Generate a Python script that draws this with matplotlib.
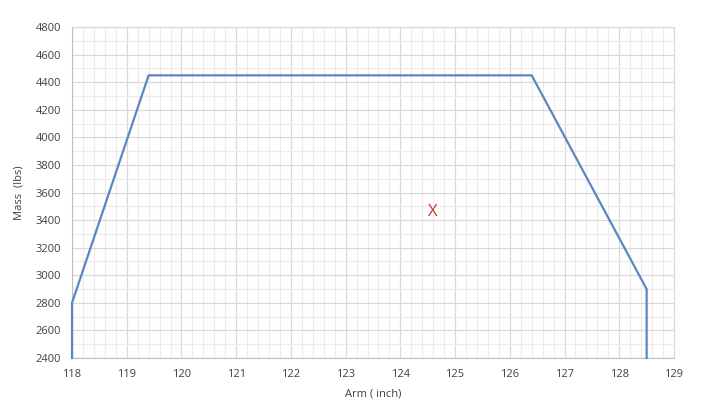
import matplotlib.pyplot as plt
from matplotlib.ticker import MultipleLocator

# envelope points (arm in inch, mass in lbs)
arm = [118.0, 118.0, 119.4, 126.4, 128.5, 128.5]
mass = [2400, 2800, 4450, 4450, 2900, 2400]

# current loading point
cg_arm = 124.6
cg_mass = 3460

plt.rcParams['font.family'] = ['Open Sans', 'DejaVu Sans']

fig = plt.figure(figsize=(7.09, 4.17), dpi=100)
ax = fig.add_axes([0.1016, 0.1415, 0.849, 0.7935])

ax.plot(arm, mass, color='#5B86BF', linewidth=1.6, zorder=3, clip_on=False)
ax.text(cg_arm, cg_mass, 'X', color='#C0392B', fontsize=12,
        ha='center', va='center', zorder=4)

ax.set_xlim(118, 129)
ax.set_ylim(2400, 4800)
ax.xaxis.set_major_locator(MultipleLocator(1))
ax.xaxis.set_minor_locator(MultipleLocator(0.2))
ax.yaxis.set_major_locator(MultipleLocator(200))
ax.yaxis.set_minor_locator(MultipleLocator(100))

ax.grid(which='major', color='#D9D9D9', linewidth=0.9)
ax.grid(which='minor', color='#F0EAEA', linewidth=0.8)
ax.set_axisbelow(True)

for s in ax.spines.values():
    s.set_color('#D9D9D9')
ax.spines['bottom'].set_color('#BFBFBF')
ax.spines['left'].set_color('#BFBFBF')

ax.tick_params(which='both', length=0, labelsize=8, colors='#404040', pad=8)
ax.set_xlabel('Arm ( inch)', fontsize=8, color='#404040', labelpad=6)
ax.set_ylabel('Mass  (lbs)', fontsize=8, color='#404040', labelpad=8)

fig.savefig('out.png', dpi=100)
